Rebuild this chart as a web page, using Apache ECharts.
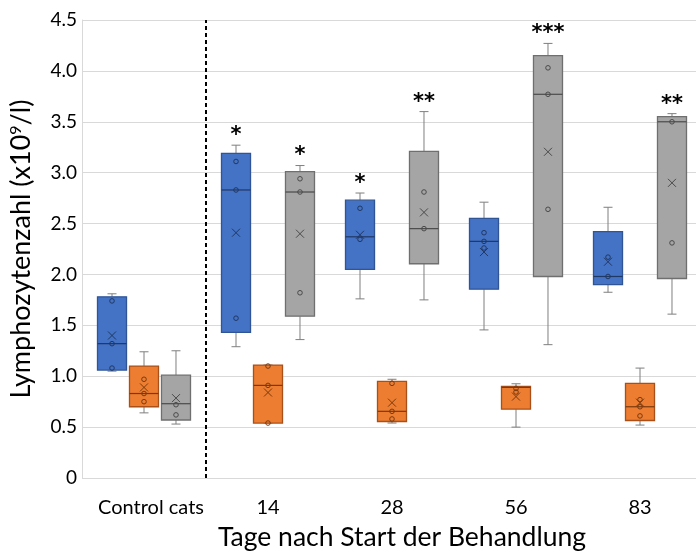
<!DOCTYPE html>
<html>
<head>
<meta charset="utf-8">
<script src="https://cdn.jsdelivr.net/npm/echarts@6/dist/echarts.min.js"></script>
<style>
  html, body { margin: 0; padding: 0; background: #fff; overflow: hidden; }
  #chart { width: 702px; height: 557px; }
</style>
</head>
<body>
<div id="chart"></div>
<script>
// Groups on the x axis
const categories = ['Control cats', '14', '28', '56', '83'];

// Five-number summaries per group: [min, Q1, median, Q3, max]
const blueStats = [
  [1.05, 1.06, 1.32, 1.78, 1.81],
  [1.29, 1.43, 2.83, 3.19, 3.27],
  [1.76, 2.05, 2.37, 2.73, 2.80],
  [1.455, 1.855, 2.325, 2.55, 2.71],
  [1.825, 1.90, 1.98, 2.42, 2.66]
];
const orangeStats = [
  [0.64, 0.70, 0.83, 1.10, 1.24],
  [0.54, 0.54, 0.91, 1.11, 1.11],
  [0.54, 0.555, 0.655, 0.95, 0.97],
  [0.50, 0.677, 0.89, 0.90, 0.926],
  [0.52, 0.565, 0.70, 0.93, 1.08]
];
const grayStats = [
  [0.53, 0.57, 0.73, 1.01, 1.25],
  [1.36, 1.59, 2.81, 3.01, 3.07],
  [1.75, 2.105, 2.45, 3.21, 3.60],
  [1.31, 1.98, 3.77, 4.15, 4.27],
  [1.61, 1.96, 3.50, 3.55, 3.58]
];

// Group means (drawn as ×)
const blueMeans = [1.40, 2.41, 2.39, 2.22, 2.125];
const orangeMeans = [0.89, 0.84, 0.74, 0.80, 0.74];
const grayMeans = [0.785, 2.40, 2.61, 3.205, 2.90];

// Inner data points (drawn as small circles)
const bluePoints = [
  [1.74, 1.32, 1.08],
  [3.11, 2.83, 1.57],
  [2.65, 2.345],
  [2.41, 2.325, 2.26],
  [2.17, 1.98]
];
const orangePoints = [
  [0.97, 0.83, 0.75],
  [1.10, 0.91, 0.54],
  [0.93, 0.655, 0.58],
  [0.88, 0.845],
  [0.77, 0.70, 0.61]
];
const grayPoints = [
  [0.72, 0.62],
  [2.94, 2.81, 1.82],
  [2.81, 2.45],
  [4.03, 3.77, 2.64],
  [3.50, 2.31]
];

// Significance markers above the boxes
const blueSig = ['', '*', '*', '', ''];
const orangeSig = ['', '', '', '', ''];
const graySig = ['', '*', '**', '***', '**'];

// Y axis ticks
const yMin = 0, yMax = 4.5, yStep = 0.5;

const SLOT = 0.258;     // horizontal offset between boxes, fraction of band
const HALF = 0.117;     // half box width, fraction of band
const CAP = 4.5;        // half whisker cap width, px

const groups = [
  { name: 'blue',   slot: -1, stats: blueStats,   means: blueMeans,   pts: bluePoints,   sig: blueSig,
    fill: '#4472C4', border: '#2F5597', whisker: '#7F7F7F', dark: '#203864' },
  { name: 'orange', slot: 0,  stats: orangeStats, means: orangeMeans, pts: orangePoints, sig: orangeSig,
    fill: '#ED7D31', border: '#A9501A', whisker: '#7F7F7F', dark: '#7A3A0E' },
  { name: 'gray',   slot: 1,  stats: grayStats,   means: grayMeans,   pts: grayPoints,   sig: graySig,
    fill: '#A5A5A5', border: '#6F6F6F', whisker: '#7F7F7F', dark: '#4A4A4A' }
];

function boxRenderer(g) {
  return function (params, api) {
    const cat = api.value(0);
    const band = api.size([1, 0])[0];
    const cx = api.coord([cat, 0])[0] + g.slot * band * SLOT;
    const half = band * HALF;
    const y = k => api.coord([cat, api.value(k)])[1];
    const yLo = y(1), yQ1 = y(2), yMed = y(3), yQ3 = y(4), yHi = y(5), yMean = y(6);
    const line = (x1, y1, x2, y2, color, w) => ({
      type: 'line', shape: { x1, y1, x2, y2 },
      style: { stroke: color, lineWidth: w || 1 }
    });
    const children = [
      line(cx, yHi, cx, yQ3, g.whisker),
      line(cx - CAP, yHi, cx + CAP, yHi, g.whisker),
      line(cx, yQ1, cx, yLo, g.whisker),
      line(cx - CAP, yLo, cx + CAP, yLo, g.whisker),
      { type: 'rect', shape: { x: cx - half, y: yQ3, width: half * 2, height: yQ1 - yQ3 },
        style: { fill: g.fill, stroke: g.border, lineWidth: 1.3 } },
      line(cx - half, yMed, cx + half, yMed, g.dark, 1.2),
      line(cx - 4, yMean - 4, cx + 4, yMean + 4, g.dark, 1),
      line(cx - 4, yMean + 4, cx + 4, yMean - 4, g.dark, 1)
    ];
    const s = g.sig[params.dataIndex];
    if (s) {
      children.push({
        type: 'text',
        style: {
          text: s, x: cx, y: yHi + 1, align: 'center', verticalAlign: 'bottom',
          fill: '#000', font: 'bold 21px "DejaVu Sans"'
        }
      });
    }
    return { type: 'group', children };
  };
}

function pointRenderer(g) {
  return function (params, api) {
    const cat = api.value(0);
    const band = api.size([1, 0])[0];
    const cx = api.coord([cat, 0])[0] + g.slot * band * SLOT;
    const cy = api.coord([cat, api.value(1)])[1];
    return {
      type: 'circle', shape: { cx, cy, r: 2.3 },
      style: { fill: 'none', stroke: g.dark, lineWidth: 1 }
    };
  };
}

const series = [];
groups.forEach(g => {
  series.push({
    type: 'custom', name: g.name,
    renderItem: boxRenderer(g),
    encode: { x: 0, y: [1, 2, 3, 4, 5, 6] },
    data: g.stats.map((s, i) => [i, ...s, g.means[i]]),
    z: 3
  });
  const pts = [];
  g.pts.forEach((arr, i) => arr.forEach(v => pts.push([i, v])));
  series.push({
    type: 'custom', name: g.name + '-points',
    renderItem: pointRenderer(g),
    encode: { x: 0, y: 1 },
    data: pts,
    z: 4
  });
});

// Dashed separator between the control group and the treatment days
series.push({
  type: 'custom', name: 'divider',
  renderItem: function (params, api) {
    const band = api.size([1, 0])[0];
    const x = api.coord([0, 0])[0] + band / 2;
    return {
      type: 'line',
      shape: { x1: x, y1: api.coord([0, yMin])[1], x2: x, y2: api.coord([0, yMax])[1] },
      style: { stroke: '#000', lineWidth: 2, lineDash: [4, 3] }
    };
  },
  encode: { x: 0, y: 1 },
  data: [[0, yMin]],
  z: 2
});

const chart = echarts.init(document.getElementById('chart'), null, { renderer: 'canvas' });
chart.setOption({
  animation: false,
  backgroundColor: '#fff',
  textStyle: { fontFamily: 'Lato' },
  grid: { left: 81, right: 0, top: 20, bottom: 79 },
  xAxis: {
    type: 'category',
    data: categories,
    name: 'Tage nach Start der Behandlung',
    nameLocation: 'middle',
    nameGap: 46,
    nameTextStyle: { fontSize: 26.5, color: '#000', fontFamily: 'Lato', padding: [0, 0, 0, 20] },
    axisLine: { show: false },
    axisTick: { show: false },
    axisLabel: {
      interval: 0,
      fontSize: 20, color: '#000', margin: 20, fontFamily: 'Lato',
      formatter: (v, i) => i === 0 ? '{c|' + v + '}' : v,
      rich: { c: { fontSize: 20, color: '#000', fontFamily: 'Lato', padding: [0, 0, 0, 14] } }
    },
    splitLine: { show: false }
  },
  yAxis: {
    type: 'value',
    min: yMin, max: yMax, interval: yStep,
    name: 'Lymphozytenzahl (x10{sup|9}/l)',
    nameLocation: 'middle',
    nameGap: 47,
    nameRotate: 90,
    nameTextStyle: {
      fontSize: 27, color: '#000', fontFamily: 'Lato',
      rich: { sup: { fontSize: 16, color: '#000', fontFamily: 'Lato', verticalAlign: 'top', padding: [0, 0, 10, 0] } }
    },
    axisLine: { show: true, lineStyle: { color: '#D9D9D9', width: 1 } },
    axisTick: { show: false },
    axisLabel: {
      fontSize: 19, color: '#000', margin: 5, fontFamily: 'Lato',
      formatter: v => v === 0 ? '0' : v.toFixed(1)
    },
    splitLine: { show: true, lineStyle: { color: '#D9D9D9', width: 1 } }
  },
  series
});
</script>
</body>
</html>
